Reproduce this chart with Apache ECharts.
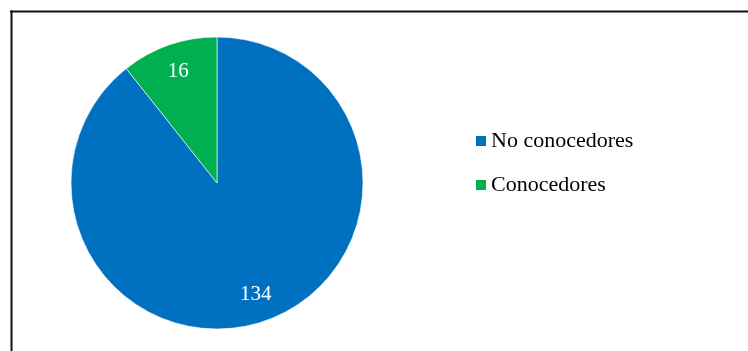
<!DOCTYPE html>
<html>
<head>
<meta charset="utf-8">
<script src="https://cdn.jsdelivr.net/npm/echarts@6/dist/echarts.min.js"></script>
<style>html,body{margin:0;padding:0;background:#fff;}#c{width:748px;height:351px;}</style>
</head>
<body>
<div id="c"></div>
<script>
var categories = ['No conocedores', 'Conocedores'];
var values = [134, 16];
var colors = ['#0070C0', '#00B050'];

var data = categories.map(function (n, i) {
  return { name: n, value: values[i], itemStyle: { color: colors[i] } };
});
var labelData = categories.map(function (n, i) {
  return { name: n, value: values[i] };
});

var chart = echarts.init(document.getElementById('c'), null, { renderer: 'canvas' });
chart.setOption({
  backgroundColor: '#fff',
  animation: false,
  graphic: [
    { type: 'line', shape: { x1: 10, y1: 11.5, x2: 748, y2: 11.5 }, style: { stroke: '#111', lineWidth: 2 } },
    { type: 'line', shape: { x1: 11.5, y1: 10.5, x2: 11.5, y2: 351 }, style: { stroke: '#111', lineWidth: 2 } }
  ],
  legend: {
    orient: 'vertical',
    left: 476,
    top: 130,
    padding: 0,
    itemWidth: 10,
    itemHeight: 10,
    itemGap: 22,
    icon: 'rect',
    selectedMode: false,
    data: categories,
    itemStyle: { borderWidth: 0 },
    textStyle: { fontFamily: 'Liberation Serif', fontSize: 22, color: '#000', padding: [0, 0, 0, 0] }
  },
  series: [
    {
      type: 'pie',
      center: [217, 183],
      radius: [0, 146],
      startAngle: 90,
      clockwise: true,
      label: { show: false },
      labelLine: { show: false },
      itemStyle: { borderColor: '#fff', borderWidth: 0.6 },
      emphasis: { disabled: true },
      data: data
    },
    {
      type: 'pie',
      center: [217, 183],
      radius: [84, 146],
      startAngle: 90,
      clockwise: true,
      silent: true,
      legendHoverLink: false,
      itemStyle: { color: 'rgba(0,0,0,0)' },
      label: { show: true, position: 'inside', formatter: '{c}', color: '#fff', fontFamily: 'Liberation Serif', fontSize: 21 },
      labelLine: { show: false },
      emphasis: { disabled: true },
      data: labelData
    }
  ]
});
</script>
</body>
</html>
